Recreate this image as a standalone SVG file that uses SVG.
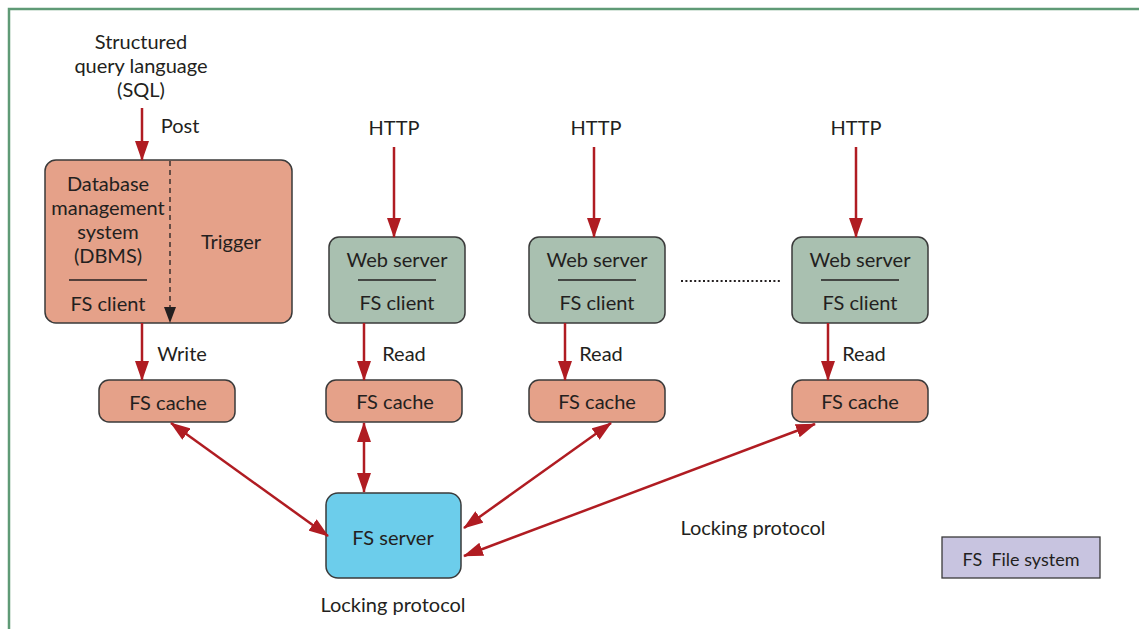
<svg xmlns="http://www.w3.org/2000/svg" width="1139" height="629" viewBox="0 0 1139 629">
<style>
text{font-family:Lato,"Open Sans","Liberation Sans",sans-serif;font-size:20px;fill:#231f20;text-anchor:middle}
.t{dominant-baseline:central}
.box{stroke:#3a3a3a;stroke-width:1.5}
.dbms{fill:#e5a189}
.web{fill:#a9c0b0}
.srv{fill:#6ccdeb}
.sep{stroke:#231f20;stroke-width:1.3}
.ar{stroke:#b01c22;stroke-width:2.5;fill:none}
</style>
<defs>
<marker id="ah" markerWidth="20" markerHeight="14" refX="19" refY="7" orient="auto-start-reverse" markerUnits="userSpaceOnUse">
<path d="M0,0 L20,7 L0,14 Z" fill="#b01c22"/>
</marker>
<marker id="ahk" markerWidth="16" markerHeight="12" refX="15" refY="6" orient="auto" markerUnits="userSpaceOnUse">
<path d="M0,0 L16,6 L0,12 Z" fill="#231f20"/>
</marker>
</defs>
<g id="frame">
<path d="M9,629 V9 H1139" fill="none" stroke="#5f9a76" stroke-width="2.5"/>
</g>
<g id="sql-label">
<text x="141" y="41" class="t">Structured</text>
<text x="141" y="65" class="t">query language</text>
<text x="141" y="89" class="t">(SQL)</text>
</g>
<g id="dbms">
<rect class="box dbms" x="45" y="160" width="247" height="163" rx="11"/>
<line class="sep" x1="69" y1="280" x2="147" y2="280"/>
<text x="108" y="183" class="t">Database</text>
<text x="108" y="207" class="t">management</text>
<text x="108" y="231" class="t">system</text>
<text x="108" y="255" class="t">(DBMS)</text>
<text x="108" y="303" class="t">FS client</text>
<text x="231" y="241" class="t">Trigger</text>
<line x1="170" y1="161" x2="170" y2="322" stroke="#231f20" stroke-width="1.3" stroke-dasharray="5,4" marker-end="url(#ahk)"/>
</g>
<g id="web1">
<rect class="box web" x="329" y="237" width="136" height="86" rx="10"/>
<line class="sep" x1="358" y1="280" x2="436" y2="280"/>
<text x="397" y="259" class="t">Web server</text>
<text x="397" y="302" class="t">FS client</text>
</g>
<g id="web2">
<rect class="box web" x="529" y="237" width="136" height="86" rx="10"/>
<line class="sep" x1="558" y1="280" x2="636" y2="280"/>
<text x="597" y="259" class="t">Web server</text>
<text x="597" y="302" class="t">FS client</text>
</g>
<g id="web3">
<rect class="box web" x="792" y="237" width="136" height="86" rx="10"/>
<line class="sep" x1="821" y1="280" x2="899" y2="280"/>
<text x="860" y="259" class="t">Web server</text>
<text x="860" y="302" class="t">FS client</text>
</g>
<g id="cache1">
<rect class="box dbms" x="99" y="380" width="136" height="42" rx="10"/>
<text x="168" y="402" class="t">FS cache</text>
</g>
<g id="cache2">
<rect class="box dbms" x="326" y="380" width="136" height="42" rx="10"/>
<text x="395" y="401" class="t">FS cache</text>
</g>
<g id="cache3">
<rect class="box dbms" x="529" y="380" width="136" height="42" rx="10"/>
<text x="597" y="401" class="t">FS cache</text>
</g>
<g id="cache4">
<rect class="box dbms" x="792" y="380" width="136" height="42" rx="10"/>
<text x="860" y="401" class="t">FS cache</text>
</g>
<g id="fsserver">
<rect class="box srv" x="326" y="493" width="135" height="85" rx="12"/>
<text x="393" y="537" class="t">FS server</text>
</g>
<g id="legend">
<rect x="942" y="537" width="158" height="41" fill="#c8c4e0" stroke="#3a3a3a" stroke-width="1.3"/>
<text x="1021" y="559" class="t" style="font-size:18px" xml:space="preserve">FS  File system</text>
</g>
<g id="connectors">
<line class="ar" x1="142" y1="108" x2="142" y2="160" marker-end="url(#ah)"/>
<line class="ar" x1="394" y1="147" x2="394" y2="237" marker-end="url(#ah)"/>
<line class="ar" x1="594" y1="147" x2="594" y2="237" marker-end="url(#ah)"/>
<line class="ar" x1="856" y1="147" x2="856" y2="237" marker-end="url(#ah)"/>
<line class="ar" x1="142" y1="323" x2="142" y2="380" marker-end="url(#ah)"/>
<line class="ar" x1="364" y1="323" x2="364" y2="380" marker-end="url(#ah)"/>
<line class="ar" x1="565" y1="323" x2="565" y2="380" marker-end="url(#ah)"/>
<line class="ar" x1="828" y1="323" x2="828" y2="380" marker-end="url(#ah)"/>
<line class="ar" x1="171" y1="423" x2="328" y2="536" marker-start="url(#ah)" marker-end="url(#ah)"/>
<line class="ar" x1="364" y1="423" x2="364" y2="492" marker-start="url(#ah)" marker-end="url(#ah)"/>
<line class="ar" x1="611" y1="423" x2="464" y2="528" marker-start="url(#ah)" marker-end="url(#ah)"/>
<line class="ar" x1="815" y1="424" x2="464" y2="556" marker-start="url(#ah)" marker-end="url(#ah)"/>
<line x1="681" y1="281" x2="782" y2="281" stroke="#231f20" stroke-width="2" stroke-dasharray="2,2.4"/>
</g>
<g id="labels">
<text x="180" y="125" class="t">Post</text>
<text x="182" y="353" class="t">Write</text>
<text x="404" y="353" class="t">Read</text>
<text x="601" y="353" class="t">Read</text>
<text x="864" y="353" class="t">Read</text>
<text x="394" y="127" class="t">HTTP</text>
<text x="596" y="127" class="t">HTTP</text>
<text x="856" y="127" class="t">HTTP</text>
<text x="753" y="527" class="t">Locking protocol</text>
<text x="393" y="604" class="t">Locking protocol</text>
</g>
</svg>
